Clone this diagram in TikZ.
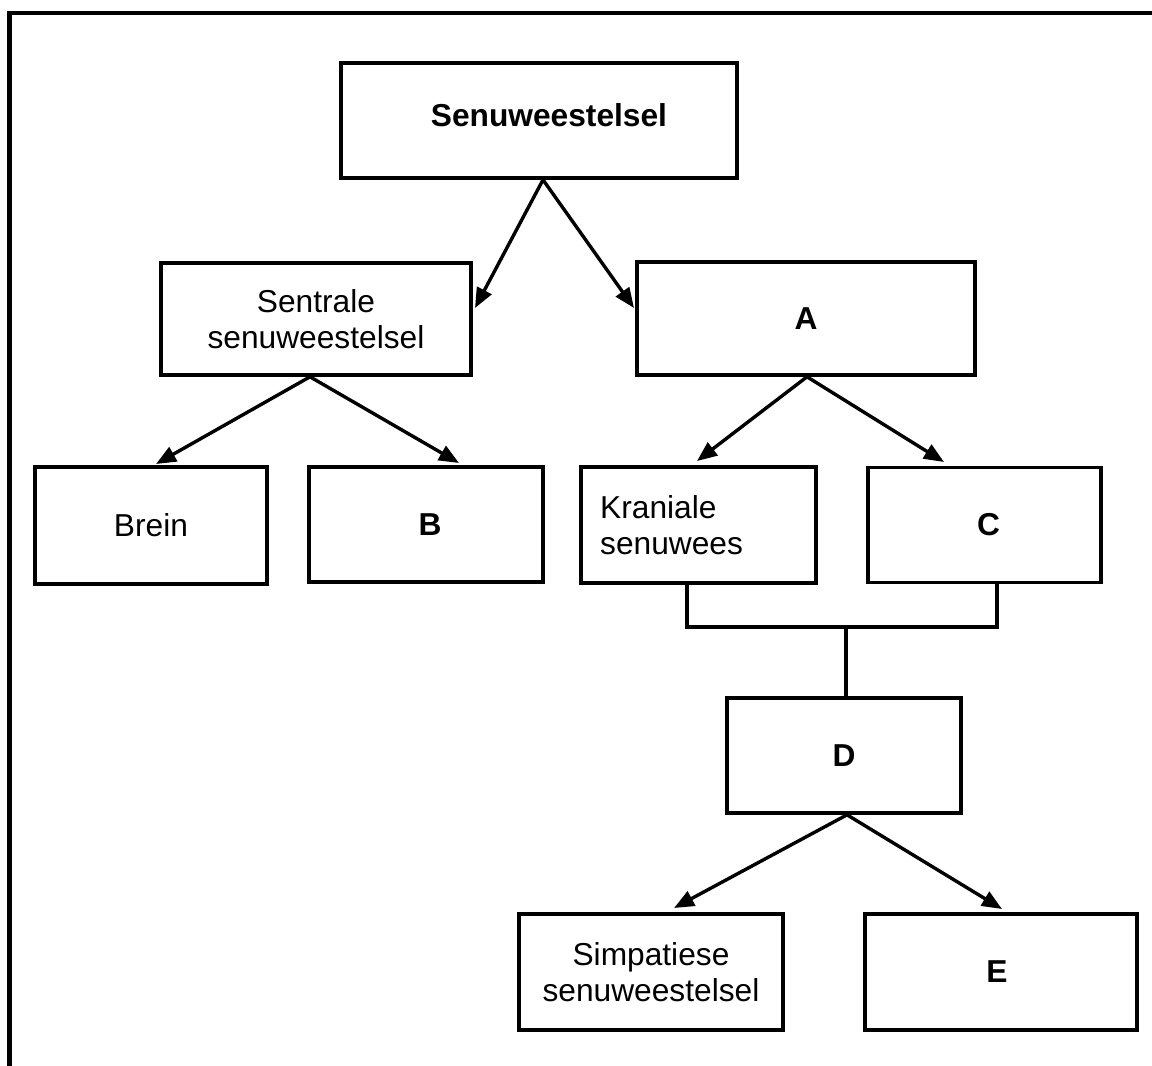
\documentclass[tikz,border=0pt]{standalone}
\usepackage{fontspec}
\setmainfont{Liberation Sans}
\usetikzlibrary{arrows.meta,calc}
\begin{document}
\begin{tikzpicture}[x=1pt,y=-1pt,
  box/.style={draw,line width=3.6pt,inner sep=0pt,align=center,font=\fontsize{31.7}{36.5}\selectfont},
  bbox/.style={box,font=\fontsize{31.7}{36.5}\selectfont\bfseries},
  txt/.style={inner sep=0pt,font=\fontsize{31.7}{36.5}\selectfont},
  arr/.style={line width=3.4pt,-{Triangle[length=20pt,width=16pt]}},
  ln/.style={line width=3.6pt},
  frame/.style={line width=4.5pt}]
\useasboundingbox (0,0) rectangle (1152,1066);
% outer frame (left and top)
\coordinate (fbl) at (9.5,1066);
\coordinate (ftl) at (9.5,13);
\coordinate (ftr) at (1152,13);
\draw[frame] (fbl) -- (ftl) -- (ftr);
% boxes
\node[box,minimum width=396,minimum height=115] (top) at (539,120.5) {};
\node[txt,font=\fontsize{31.7}{36.5}\selectfont\bfseries] (toptext) at (549,115) {Senuweestelsel};
\node[box,minimum width=310,minimum height=112] (sen) at (316,319) {Sentrale\\senuweestelsel};
\node[bbox,minimum width=338,minimum height=113] (A) at (806,318.5) {A};
\node[box,minimum width=232,minimum height=117] (brein) at (151,525.5) {Brein};
\node[bbox,minimum width=234,minimum height=115] (B) at (426,524.5) {\hspace*{8pt}B};
\node[box,minimum width=235,minimum height=116] (kra) at (698.5,525) {};
\node[txt,align=left,anchor=west] (kratext) at (600,525) {Kraniale\\senuwees};
\node[bbox,minimum width=233,minimum height=115] (C) at (984.5,525) {\hspace*{8pt}C};
\node[bbox,minimum width=234,minimum height=115] (D) at (844,755.5) {D};
\node[box,minimum width=264,minimum height=116] (simp) at (651,972) {Simpatiese\\senuweestelsel};
\node[bbox,minimum width=272,minimum height=116] (E) at (1001,972) {E\hspace*{8pt}};
% arrow tips
\coordinate (t1) at (475,308);
\coordinate (t2) at (634,308);
\coordinate (t3) at (156,464);
\coordinate (t4) at (459,463);
\coordinate (t5) at (697,461);
\coordinate (t6) at (944,462);
\coordinate (t7) at (674,908);
\coordinate (t8) at (1002,909);
\draw[arr] ($(top.south)+(4,0)$) -- (t1);
\draw[arr] ($(top.south)+(4,0)$) -- (t2);
\draw[arr] ($(sen.south)+(-6,0)$) -- (t3);
\draw[arr] ($(sen.south)+(-6,0)$) -- (t4);
\draw[arr] ($(A.south)+(1,0)$) -- (t5);
\draw[arr] ($(A.south)+(1,0)$) -- (t6);
\draw[arr] ($(D.south)+(3,0)$) -- (t7);
\draw[arr] ($(D.south)+(3,0)$) -- (t8);
% bracket joining Kraniale and C to D
\coordinate (j1) at (687,627);
\coordinate (j2) at (997,627);
\draw[ln] (kra.south -| j1) -- (j1) -- (j2) -- (C.south -| j2);
\draw[ln] ($(D.north)+(2,0)$) -- ($(D.north |- j1)+(2,0)$);
\end{tikzpicture}
\end{document}
